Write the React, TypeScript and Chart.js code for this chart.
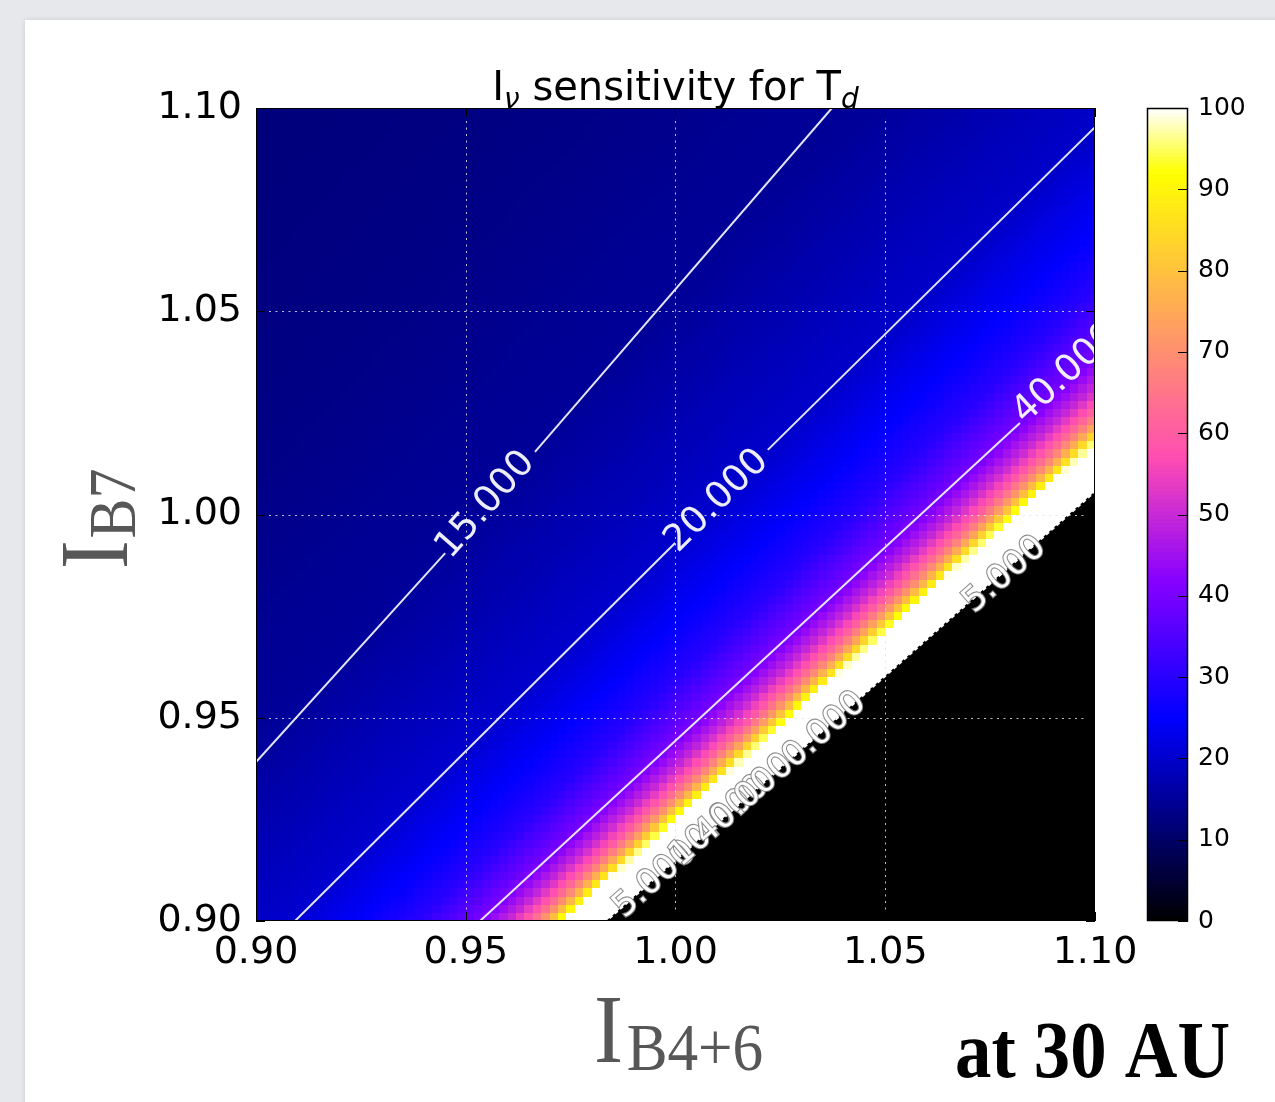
import React, { useEffect, useRef } from "react";
import { Chart, registerables } from "chart.js";

Chart.register(...registerables);

// ---------------- data ----------------
const xRange = [0.9, 1.1];
const yRange = [0.9, 1.1];
const xTickValues = [0.9, 0.95, 1.0, 1.05, 1.1];
const yTickValues = [0.9, 0.95, 1.0, 1.05, 1.1];
const colorbarTicks = [0, 10, 20, 30, 40, 50, 60, 70, 80, 90, 100];
const colorRange = [0, 100];
const cellsPerAxis = 100;

// T_d read off the picture along the ratio I_B7 / I_B4+6 (first knot = no-solution boundary)
const ratioKnots = [0.9143, 0.9248, 0.9262, 0.9278, 0.93, 0.933, 0.9375, 0.9445, 0.959, 0.973, 0.993, 1.05, 1.13, 1.2222];
const tempKnots = [300, 100, 90, 80, 70, 60, 50, 40, 30, 25, 20, 15, 13, 12];

// boundary of the black (no solution) region
const boundaryLine: number[][] = [[0.9839, 0.9], [1.1, 1.0053]];

// contour lines (null = gap for the inline label)
const contour15: (number[] | null)[] = [[0.9, 0.9391], [0.9451, 0.9905], null, [0.9665, 1.0154], [1.0373, 1.1]];
const contour20: (number[] | null)[] = [[0.9093, 0.9], [0.9999, 0.993], null, [1.022, 1.0159], [1.1, 1.0953]];
const contour40: (number[] | null)[] = [[0.9534, 0.9], [1.0821, 1.0225]];

const contourLabelText = ["15.000", "20.000", "40.000"];
const contourLabelX = [0.9548, 1.0099, 1.0931];
const contourLabelY = [1.0023, 1.0033, 1.0346];
const contourLabelLines = [contour15, contour20, contour40];

const boundaryLabelText = ["5.000", "10.000", "40.000", "0.000", "5.000"];
const boundaryLabelX = [0.9951, 1.0105, 1.0165, 1.0356, 1.0785];
const boundaryLabelY = [0.9101, 0.9245, 0.9298, 0.9469, 0.9851];

// ---------------- helpers ----------------
function clamp(v: number, lo: number, hi: number) {
  return Math.max(lo, Math.min(hi, v));
}

function gnuplot2(t: number) {
  t = clamp(t, 0, 1);
  const r = clamp(t / 0.32 - 0.78125, 0, 1);
  const g = clamp(2 * t - 0.84, 0, 1);
  let b: number;
  if (t < 0.25) b = 4 * t;
  else if (t < 0.42) b = 1;
  else if (t < 0.92) b = -2 * t + 1.84;
  else b = t / 0.08 - 11.5;
  b = clamp(b, 0, 1);
  return `rgb(${Math.round(r * 255)},${Math.round(g * 255)},${Math.round(b * 255)})`;
}

function tempForRatio(r: number) {
  if (r < ratioKnots[0]) return tempKnots[0];
  for (let k = 0; k < ratioKnots.length - 1; k++) {
    if (r >= ratioKnots[k] && r <= ratioKnots[k + 1]) {
      const f = (r - ratioKnots[k]) / (ratioKnots[k + 1] - ratioKnots[k]);
      return tempKnots[k] + f * (tempKnots[k + 1] - tempKnots[k]);
    }
  }
  return tempKnots[tempKnots.length - 1];
}

// table of cell colours for the image grid
const cellColors: string[][] = (() => {
  const dx = (xRange[1] - xRange[0]) / cellsPerAxis;
  const dy = (yRange[1] - yRange[0]) / cellsPerAxis;
  const rows: string[][] = [];
  for (let j = 0; j < cellsPerAxis; j++) {
    const row: string[] = [];
    const yc = yRange[0] + (j + 0.5) * dy;
    for (let i = 0; i < cellsPerAxis; i++) {
      const xc = xRange[0] + (i + 0.5) * dx;
      const T = tempForRatio(yc / xc);
      row.push(gnuplot2((T - colorRange[0]) / (colorRange[1] - colorRange[0])));
    }
    rows.push(row);
  }
  return rows;
})();

function segments(pts: (number[] | null)[]) {
  const out: { x: number; y: number }[][] = [];
  let cur: { x: number; y: number }[] = [];
  for (const p of pts) {
    if (p === null) {
      if (cur.length) out.push(cur);
      cur = [];
    } else cur.push({ x: p[0], y: p[1] });
  }
  if (cur.length) out.push(cur);
  return out;
}

function firstLast(pts: (number[] | null)[]) {
  const valid = pts.filter((p) => p !== null) as number[][];
  return [valid[0], valid[valid.length - 1]];
}

const SANS = "'DejaVu Sans', 'Liberation Sans', sans-serif";
const SERIF = "'Liberation Serif', 'DejaVu Serif', serif";

function drawRotated(
  ctx: CanvasRenderingContext2D,
  text: string,
  px: number,
  py: number,
  angle: number,
  font: string,
  fill: string,
  stroke?: string
) {
  ctx.save();
  ctx.translate(px, py);
  ctx.rotate(-angle);
  ctx.font = font;
  ctx.textAlign = "center";
  ctx.textBaseline = "middle";
  if (stroke) {
    ctx.lineWidth = 2.2;
    ctx.strokeStyle = stroke;
    ctx.strokeText(text, 0, 0);
  }
  ctx.fillStyle = fill;
  ctx.fillText(text, 0, 0);
  ctx.restore();
}

// ---------------- plugins ----------------
const heatmapPlugin = {
  id: "heatmap",
  beforeDatasetsDraw(chart: any) {
    const { ctx, chartArea: a, scales } = chart;
    const xs = scales.x;
    const ys = scales.y;
    ctx.save();
    ctx.beginPath();
    ctx.rect(a.left, a.top, a.right - a.left, a.bottom - a.top);
    ctx.clip();
    const dx = (xRange[1] - xRange[0]) / cellsPerAxis;
    const dy = (yRange[1] - yRange[0]) / cellsPerAxis;
    for (let j = 0; j < cellsPerAxis; j++) {
      const yTop = Math.round(ys.getPixelForValue(yRange[0] + (j + 1) * dy));
      const yBot = Math.round(ys.getPixelForValue(yRange[0] + j * dy));
      for (let i = 0; i < cellsPerAxis; i++) {
        const xL = Math.round(xs.getPixelForValue(xRange[0] + i * dx));
        const xR = Math.round(xs.getPixelForValue(xRange[0] + (i + 1) * dx));
        ctx.fillStyle = cellColors[j][i];
        ctx.fillRect(xL, yTop, xR - xL, yBot - yTop);
      }
    }
    // no-solution region
    ctx.fillStyle = "#000";
    ctx.beginPath();
    ctx.moveTo(xs.getPixelForValue(boundaryLine[0][0]), ys.getPixelForValue(boundaryLine[0][1]) + 2);
    ctx.lineTo(xs.getPixelForValue(boundaryLine[0][0]), ys.getPixelForValue(boundaryLine[0][1]));
    ctx.lineTo(xs.getPixelForValue(boundaryLine[1][0]), ys.getPixelForValue(boundaryLine[1][1]));
    ctx.lineTo(xs.getPixelForValue(xRange[1]) + 2, ys.getPixelForValue(boundaryLine[1][1]));
    ctx.lineTo(xs.getPixelForValue(xRange[1]) + 2, ys.getPixelForValue(yRange[0]) + 2);
    ctx.closePath();
    ctx.fill();
    // dotted grid
    ctx.setLineDash([2, 4.5]);
    ctx.strokeStyle = "rgba(225,225,230,0.85)";
    ctx.lineWidth = 1;
    for (const v of xTickValues) {
      const p = Math.round(xs.getPixelForValue(v)) + 0.5;
      ctx.beginPath();
      ctx.moveTo(p, a.top);
      ctx.lineTo(p, a.bottom);
      ctx.stroke();
    }
    for (const v of yTickValues) {
      const p = Math.round(ys.getPixelForValue(v)) + 0.5;
      ctx.beginPath();
      ctx.moveTo(a.left, p);
      ctx.lineTo(a.right, p);
      ctx.stroke();
    }
    ctx.restore();
  },
};

const overlayPlugin = {
  id: "overlay",
  afterDatasetsDraw(chart: any) {
    const { ctx, chartArea: a, scales } = chart;
    const xs = scales.x;
    const ys = scales.y;
    ctx.save();
    ctx.beginPath();
    ctx.rect(a.left, a.top, a.right - a.left, a.bottom - a.top);
    ctx.clip();
    // contour labels
    contourLabelText.forEach((t, k) => {
      const [p0, p1] = firstLast(contourLabelLines[k]);
      const ang = Math.atan2(
        -(ys.getPixelForValue(p1[1]) - ys.getPixelForValue(p0[1])),
        xs.getPixelForValue(p1[0]) - xs.getPixelForValue(p0[0])
      );
      drawRotated(
        ctx,
        t,
        xs.getPixelForValue(contourLabelX[k]),
        ys.getPixelForValue(contourLabelY[k]),
        ang,
        `37px ${SANS}`,
        "rgba(250,250,255,0.95)"
      );
    });
    // crowded labels along the boundary
    const bAng = Math.atan2(
      -(ys.getPixelForValue(boundaryLine[1][1]) - ys.getPixelForValue(boundaryLine[0][1])),
      xs.getPixelForValue(boundaryLine[1][0]) - xs.getPixelForValue(boundaryLine[0][0])
    );
    boundaryLabelText.forEach((t, k) => {
      drawRotated(
        ctx,
        t,
        xs.getPixelForValue(boundaryLabelX[k]),
        ys.getPixelForValue(boundaryLabelY[k]),
        bAng,
        `34px ${SANS}`,
        "#ffffff",
        "rgba(130,130,130,0.9)"
      );
    });
    ctx.restore();

    // axes frame and inward ticks
    ctx.save();
    ctx.strokeStyle = "#000";
    ctx.lineWidth = 1;
    ctx.strokeRect(a.left + 0.5, a.top + 0.5, a.right - a.left - 1, a.bottom - a.top - 1);
    ctx.beginPath();
    for (const v of xTickValues) {
      const p = Math.round(xs.getPixelForValue(v)) + 0.5;
      ctx.moveTo(p, a.bottom);
      ctx.lineTo(p, a.bottom - 9);
      ctx.moveTo(p, a.top);
      ctx.lineTo(p, a.top + 9);
    }
    for (const v of yTickValues) {
      const p = Math.round(ys.getPixelForValue(v)) + 0.5;
      ctx.moveTo(a.left, p);
      ctx.lineTo(a.left + 9, p);
      ctx.moveTo(a.right, p);
      ctx.lineTo(a.right - 9, p);
    }
    ctx.stroke();
    ctx.restore();
  },
  afterDraw(chart: any) {
    const { ctx, chartArea: a, scales } = chart;
    const cb = scales.cb;
    // colorbar
    const barL = a.right + 52;
    const barW = 41;
    ctx.save();
    const step = 0.5;
    for (let v = colorRange[0]; v < colorRange[1]; v += step) {
      const yTop = cb.getPixelForValue(v + step);
      const yBot = cb.getPixelForValue(v);
      ctx.fillStyle = gnuplot2((v + step / 2 - colorRange[0]) / (colorRange[1] - colorRange[0]));
      ctx.fillRect(barL, Math.floor(yTop), barW, Math.ceil(yBot) - Math.floor(yTop));
    }
    ctx.strokeStyle = "#000";
    ctx.lineWidth = 1.5;
    const cTop = cb.getPixelForValue(colorRange[1]);
    const cBot = cb.getPixelForValue(colorRange[0]);
    ctx.strokeRect(barL + 0.5, cTop + 0.5, barW - 1, cBot - cTop - 1);
    ctx.lineWidth = 1;
    ctx.beginPath();
    for (const v of colorbarTicks) {
      const p = Math.round(cb.getPixelForValue(v)) + 0.5;
      ctx.moveTo(barL + barW - 10, p);
      ctx.lineTo(barL + barW, p);
    }
    ctx.stroke();
    ctx.restore();

    // title  I_ν sensitivity for T_d
    ctx.save();
    ctx.fillStyle = "#000";
    ctx.textBaseline = "alphabetic";
    const big = `40px ${SANS}`;
    const sub = `italic 28px ${SANS}`;
    const parts = [
      { t: "I", f: big, dy: 0 },
      { t: "\u03BD", f: sub, dy: 8 },
      { t: " sensitivity for T", f: big, dy: 0 },
      { t: "d", f: sub, dy: 8 },
    ];
    let total = 0;
    const widths = parts.map((p) => {
      ctx.font = p.f;
      const w = ctx.measureText(p.t).width;
      total += w;
      return w;
    });
    let cx = (a.left + a.right) / 2 - total / 2;
    const baseY = a.top - 8;
    parts.forEach((p, k) => {
      ctx.font = p.f;
      ctx.fillText(p.t, cx, baseY + p.dy);
      cx += widths[k];
    });
    ctx.restore();

    // y axis title  I_B7 (rotated)
    ctx.save();
    ctx.fillStyle = "#575757";
    ctx.translate(127, 569);
    ctx.rotate(-Math.PI / 2);
    ctx.scale(0.88, 1);
    ctx.font = `98px ${SERIF}`;
    ctx.fillText("I", 0, 0);
    let iw = ctx.measureText("I").width;
    ctx.font = `68px ${SERIF}`;
    ctx.fillText("B7", iw + 2, 8);
    ctx.restore();

    // x axis title  I_B4+6
    ctx.save();
    ctx.fillStyle = "#575757";
    ctx.translate(594, 1062);
    ctx.scale(0.9, 1);
    ctx.font = `97px ${SERIF}`;
    ctx.fillText("I", 0, 0);
    iw = ctx.measureText("I").width;
    ctx.font = `68px ${SERIF}`;
    ctx.fillText("B4+6", iw + 4, 8);
    ctx.restore();

    // annotation
    ctx.save();
    ctx.fillStyle = "#000";
    ctx.translate(955, 1077);
    ctx.scale(0.91, 1);
    ctx.font = `bold 80px ${SERIF}`;
    ctx.fillText("at 30 AU", 0, 0);
    ctx.restore();
  },
};

// ---------------- datasets ----------------
function buildDatasets() {
  const ds: any[] = [];
  for (const c of [contour15, contour20, contour40]) {
    for (const seg of segments(c)) {
      ds.push({
        data: seg,
        showLine: true,
        borderColor: "rgba(240,240,250,0.95)",
        borderWidth: 2,
        pointRadius: 0,
        xAxisID: "x",
        yAxisID: "y",
      });
    }
  }
  ds.push({
    data: boundaryLine.map((p) => ({ x: p[0], y: p[1] })),
    showLine: true,
    borderColor: "#000",
    borderWidth: 2.5,
    borderDash: [3, 4],
    pointRadius: 0,
    xAxisID: "x",
    yAxisID: "y",
  });
  return ds;
}

const tickFont = { family: SANS, size: 38 };

export default function App() {
  const ref = useRef<HTMLCanvasElement | null>(null);
  useEffect(() => {
    if (!ref.current) return;
    const chart = new Chart(ref.current, {
      type: "scatter",
      data: { datasets: buildDatasets() },
      options: {
        responsive: false,
        maintainAspectRatio: false,
        animation: false,
        devicePixelRatio: 1,
        events: [],
        layout: { padding: { top: 108, left: 0, right: 0, bottom: 0 } },
        plugins: {
          legend: { display: false },
          tooltip: { enabled: false },
          title: { display: false },
        },
        scales: {
          x: {
            type: "linear",
            position: "bottom",
            min: xRange[0],
            max: xRange[1],
            afterBuildTicks: (s: any) => {
              s.ticks = xTickValues.map((v) => ({ value: v }));
            },
            afterFit: (s: any) => {
              s.height = 181;
            },
            grid: { display: false, drawTicks: false },
            border: { display: false },
            ticks: {
              font: tickFont,
              color: "#000",
              padding: 9,
              maxRotation: 0,
              autoSkip: false,
              callback: (v: any) => Number(v).toFixed(2),
            },
          },
          y: {
            type: "linear",
            position: "left",
            min: yRange[0],
            max: yRange[1],
            afterBuildTicks: (s: any) => {
              s.ticks = yTickValues.map((v) => ({ value: v }));
            },
            afterFit: (s: any) => {
              s.width = 256;
            },
            grid: { display: false, drawTicks: false },
            border: { display: false },
            ticks: {
              font: tickFont,
              color: "#000",
              padding: 14,
              autoSkip: false,
              callback: (v: any) => Number(v).toFixed(2),
            },
          },
          cb: {
            type: "linear",
            position: "right",
            min: colorRange[0],
            max: colorRange[1],
            afterBuildTicks: (s: any) => {
              s.ticks = colorbarTicks.map((v) => ({ value: v }));
            },
            afterFit: (s: any) => {
              s.width = 180;
            },
            grid: { display: false, drawTicks: true, tickLength: 98 },
            border: { display: false },
            ticks: {
              font: { family: SANS, size: 25 },
              color: "#000",
              padding: 5,
              autoSkip: false,
              callback: (v: any) => String(v),
            },
          },
        },
      } as any,
      plugins: [heatmapPlugin, overlayPlugin],
    });
    return () => chart.destroy();
  }, []);

  return (
    <div
      style={{
        position: "absolute",
        left: 0,
        top: 0,
        width: 1275,
        height: 1102,
        background: "#e6e8eb",
        overflow: "hidden",
      }}
    >
      <div
        style={{
          position: "absolute",
          left: 25,
          top: 20,
          width: 1260,
          height: 1090,
          background: "#ffffff",
          boxShadow: "0 0 5px rgba(0,0,0,0.12)",
        }}
      />
      <canvas
        ref={ref}
        width={1275}
        height={1102}
        style={{ position: "absolute", left: 0, top: 0, width: 1275, height: 1102 }}
      />
    </div>
  );
}
